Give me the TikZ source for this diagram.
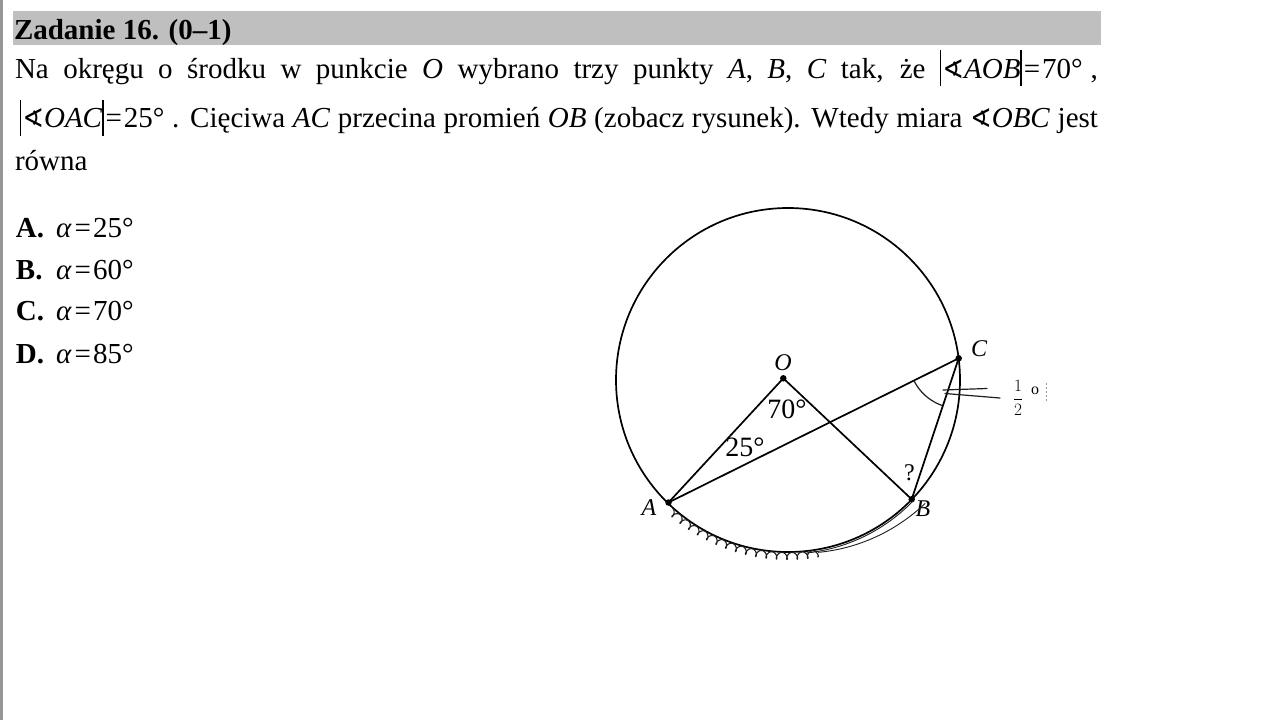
\documentclass[tikz,border=0pt]{standalone}
\usepackage{fontspec}
\setmainfont{Liberation Serif}
\newfontfamily\symfont{DejaVu Sans}
\usepackage{amsmath}
\definecolor{bargray}{RGB}{191,191,191}
\definecolor{edgegray}{RGB}{150,150,150}
\definecolor{penink}{RGB}{30,30,30}
\newcommand{\bodyfont}{\fontsize{29}{32}\selectfont}
\newcommand{\absb}{\rule[-8pt]{1.3pt}{36pt}}
\newcommand{\angs}{{\symfont\fontsize{26}{26}\selectfont ∢}}
\begin{document}
\begin{tikzpicture}[x=1pt,y=-1pt,
  every node/.style={inner sep=0pt,outer sep=0pt,font=\bodyfont},
  txt/.style={anchor=base west},
  fig/.style={line width=1.7pt,black},
  dot/.style={circle,fill=black,minimum size=6.5pt},
  lab/.style={font=\fontsize{24}{24}\selectfont\itshape},
  num/.style={font=\fontsize{28}{28}\selectfont},
  pen/.style={line width=1.2pt,penink,line cap=round,line join=round}]
\useasboundingbox (0,0) rectangle (1280,720);
\fill[white] (0,0) rectangle (1280,720);
\fill[edgegray] (0,0) rectangle (2.7,720);
\fill[bargray] (12.7,11) rectangle (1101,44.5);
% text
\node[txt] (hdr) at (14,39) {\bfseries Zadanie 16. (0–1)};
\node[txt] (l1) at (15,78) {\hbox to 1083pt{Na okręgu o środku w punkcie \textit{O} wybrano trzy punkty \textit{A}, \textit{B}, \textit{C} tak, że \absb\kern1pt\angs\textit{AOB}\absb\kern2pt=\kern2pt70°\kern8pt,}};
\node[txt] (l2) at (15,127.5) {\hbox to 1083pt{\kern5pt\absb\kern1pt\angs\textit{OAC}\absb\kern2pt=\kern2pt25° . Cięciwa \textit{AC} przecina promień \textit{OB} (zobacz rysunek). Wtedy miara \angs\textit{OBC} jest}};
\node[txt] (l3) at (15,170) {równa};
\node[txt] (ansA) at (16,237) {\bfseries A.};
\node[txt] (valA) at (56,237) {\textit{α}\kern3pt=\kern2pt25°};
\node[txt] (ansB) at (16,279) {\bfseries B.};
\node[txt] (valB) at (56,279) {\textit{α}\kern3pt=\kern2pt60°};
\node[txt] (ansC) at (16,320.5) {\bfseries C.};
\node[txt] (valC) at (56,320.5) {\textit{α}\kern3pt=\kern2pt70°};
\node[txt] (ansD) at (16,363) {\bfseries D.};
\node[txt] (valD) at (56,363) {\textit{α}\kern3pt=\kern2pt85°};
% figure
\draw[fig] (788,380) circle[radius=172pt];
\node[dot] (O) at (783.3,378.3) {};
\node[dot] (A) at (668.5,502.5) {};
\node[dot] (B) at (911.7,499.3) {};
\node[dot] (C) at (958.7,358.3) {};
\draw[fig] (A.center) -- (O.center) -- (B.center);
\draw[fig] (A.center) -- (C.center) -- (B.center);
\node[lab] (Ol) at (783,363) {O};
\node[lab] (Al) at (649,508) {A};
\node[lab] (Bl) at (923,509) {B};
\node[lab] (Cl) at (979,349) {C};
\node[num] (a70) at (787,409) {70°};
\node[num] (a25) at (745,447) {25°};
\node[font=\fontsize{24}{24}\selectfont] (q) at (909.5,473) {?};
% handwriting
\draw[pen] plot[domain=153.6:110,samples=30] ({958.7+50*cos(\x)},{358.3+50*sin(\x)});
\draw[pen] (943,390) -- (987,388.5);
\draw[pen] (945,393.5) -- (1000,398);
\node[font=\fontsize{17}{17}\selectfont] (half) at (1018,398) {$\dfrac{1}{2}$};
\node[font=\fontsize{16}{16}\selectfont] (deg) at (1035,391) {o};
\draw[edgegray,line width=0.8pt,dash pattern=on 2pt off 2pt] (1046,383) -- (1046,402);
\draw[pen,line width=1.1pt] plot[domain=0:1,samples=360,smooth]
  ({788+(172.5+3.5*(1-cos(5616*\x)))*cos(132-52*\x)+2.3*sin(5616*\x)*sin(132-52*\x)},
   {380+(172.5+3.5*(1-cos(5616*\x)))*sin(132-52*\x)-2.3*sin(5616*\x)*cos(132-52*\x)});
\draw[pen,line width=0.9pt] plot[domain=84:44,samples=40] ({788+174*cos(\x)},{380+174*sin(\x)});
\draw[pen,line width=0.9pt] plot[domain=80:42,samples=40] ({788+(175+(80-\x)*0.25)*cos(\x)},{380+(175+(80-\x)*0.25)*sin(\x)});
\end{tikzpicture}
\end{document}
